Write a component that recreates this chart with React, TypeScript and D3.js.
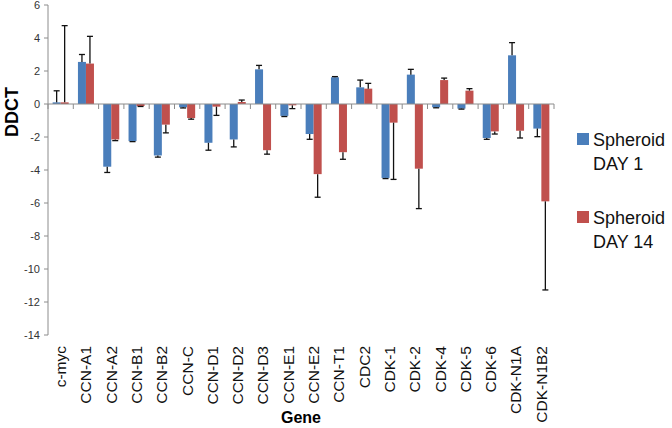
import React from "react";
import * as d3 from "d3";

const categories = ["c-myc","CCN-A1","CCN-A2","CCN-B1","CCN-B2","CCN-C","CCN-D1","CCN-D2","CCN-D3","CCN-E1","CCN-E2","CCN-T1","CDC2","CDK-1","CDK-2","CDK-4","CDK-5","CDK-6","CDK-N1A","CDK-N1B2"];
const day1 = [0.1, 2.55, -3.8, -2.25, -3.12, -0.2, -2.35, -2.15, 2.1, -0.72, -1.82, 1.62, 1.01, -4.48, 1.78, -0.2, -0.28, -2.06, 2.95, -1.49];
const day1Err = [0.7, 0.45, 0.35, 0.03, 0.1, 0.04, 0.45, 0.45, 0.24, 0.04, 0.32, 0.04, 0.44, 0.04, 0.32, 0.03, 0.03, 0.08, 0.77, 0.49];
const day14 = [0.1, 2.45, -2.15, -0.12, -1.25, -0.85, -0.16, 0.12, -2.8, -0.08, -4.25, -2.92, 0.93, -1.13, -3.92, 1.45, 0.81, -1.66, -1.62, -5.9];
const day14Err = [4.65, 1.65, 0.07, 0.03, 0.5, 0.07, 0.53, 0.12, 0.24, 0.2, 1.4, 0.43, 0.32, 3.44, 2.42, 0.12, 0.12, 0.16, 0.44, 5.37];
const yTicks = [6, 4, 2, 0, -2, -4, -6, -8, -10, -12, -14];
const seriesNames = ["Spheroid DAY 1", "Spheroid DAY 14"];
const seriesColors = ["#4A7EBB", "#C0504D"];

export default function App() {
  const left = 48, right = 554, top = 5, bottom = 335;
  const y = d3.scaleLinear().domain([-14, 6]).range([bottom, top]);
  const x0 = d3.scaleBand<string>().domain(categories).range([left, right]).padding(0);
  const x1 = d3.scaleBand<string>().domain(["d1", "d14"]).range([0, x0.bandwidth()]).paddingInner(0).paddingOuter(0.58);
  const series = [
    { key: "d1", vals: day1, errs: day1Err, color: seriesColors[0] },
    { key: "d14", vals: day14, errs: day14Err, color: seriesColors[1] },
  ];
  const y0 = y(0);
  const font = "'Liberation Sans', Arial, sans-serif";
  const boundaries = d3.range(categories.length + 1).map(i => left + i * x0.step());

  return (
    <svg width={672} height={428} style={{ position: "absolute", left: 0, top: 0, background: "#fff" }} fontFamily={font}>
      <rect x={0} y={0} width={672} height={428} fill="#fff" />
      {series.map(s => (
        <g key={s.key}>
          {categories.map((c, i) => {
            const v = s.vals[i];
            const bx = (x0(c) as number) + (x1(s.key) as number);
            const yv = y(v);
            return <rect key={c} x={bx} y={Math.min(yv, y0)} width={x1.bandwidth()} height={Math.abs(yv - y0)} fill={s.color} />;
          })}
        </g>
      ))}
      {series.map(s => (
        <g key={s.key + "e"} stroke="#111" strokeWidth={1.3}>
          {categories.map((c, i) => {
            const v = s.vals[i];
            const e = s.errs[i];
            const cx = (x0(c) as number) + (x1(s.key) as number) + x1.bandwidth() / 2;
            const end = v >= 0 ? v + e : v - e;
            return (
              <g key={c}>
                <line x1={cx} x2={cx} y1={y(v)} y2={y(end)} />
                <line x1={cx - 3} x2={cx + 3} y1={y(end)} y2={y(end)} />
              </g>
            );
          })}
        </g>
      ))}
      <line x1={left} x2={left} y1={top} y2={bottom} stroke="#8c8c8c" strokeWidth={1} />
      {yTicks.map(t => (
        <g key={t}>
          <line x1={left - 4} x2={left} y1={y(t)} y2={y(t)} stroke="#8c8c8c" strokeWidth={1} />
          <text x={left - 8} y={y(t)} dy="0.35em" textAnchor="end" fontSize={11} fill="#333">{t}</text>
        </g>
      ))}
      <line x1={left} x2={right} y1={y0} y2={y0} stroke="#8c8c8c" strokeWidth={1} />
      {boundaries.map((bx, i) => (
        <line key={i} x1={bx} x2={bx} y1={y0} y2={y0 + 5} stroke="#8c8c8c" strokeWidth={1} />
      ))}
      {categories.map(c => {
        const cx = (x0(c) as number) + x0.bandwidth() / 2;
        return (
          <text key={c} transform={`translate(${cx},346) rotate(-90)`} textAnchor="end" dy="0.35em" fontSize={15.5} fill="#111">{c}</text>
        );
      })}
      <text transform={`translate(18,112) rotate(-90)`} textAnchor="middle" fontSize={18} fontWeight="bold" fill="#000">DDCT</text>
      <text x={(left + right) / 2} y={423} textAnchor="middle" fontSize={16} fontWeight="bold" fill="#000">Gene</text>
      {seriesNames.map((n, i) => {
        const ly = 140 + i * 78;
        const parts = n.split(" ");
        return (
          <g key={n}>
            <rect x={577} y={ly - 7} width={12} height={12} fill={seriesColors[i]} />
            <text x={593} y={ly} dy="0.35em" fontSize={18} fill="#111">{parts[0]}</text>
            <text x={593} y={ly + 24} dy="0.35em" fontSize={18} fill="#111">{parts.slice(1).join(" ")}</text>
          </g>
        );
      })}
    </svg>
  );
}
